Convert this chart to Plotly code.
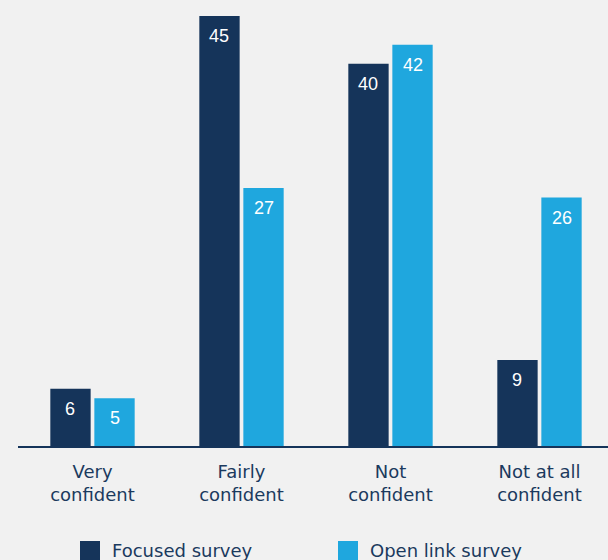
import plotly.graph_objects as go

categories = ["Very<br>confident", "Fairly<br>confident", "Not<br>confident", "Not at all<br>confident"]
series_names = ["Focused survey", "Open link survey"]
focused = [6, 45, 40, 9]
open_link = [5, 27, 42, 26]

NAVY = "#15345a"
BLUE = "#1fa7de"
BG = "#f1f1f1"
TXT = "#1b3a5e"
FONT = "DejaVu Sans"

fig = go.Figure()
xs = list(range(len(categories)))
for name, vals, col in [(series_names[0], focused, NAVY), (series_names[1], open_link, BLUE)]:
    fig.add_trace(go.Bar(x=xs, y=vals, name=name, marker=dict(color=col, line=dict(width=0)),
                         showlegend=False, hoverinfo="skip"))

# value labels inside bars, near top
for i, (a, b) in enumerate(zip(focused, open_link)):
    for off, v in [(-0.1477, a), (0.1477, b)]:
        fig.add_annotation(x=i + off, y=v, text=str(v), showarrow=False, yanchor="middle",
                           yshift=-20, font=dict(family="Liberation Sans", size=18, color="white"))

# legend (manual, large swatches)
leg = [(series_names[0], NAVY, 80), (series_names[1], BLUE, 338)]
for name, col, px in leg:
    fig.add_shape(type="rect", xref="paper", yref="paper",
                  x0=(px - 18) / 590, x1=(px + 20 - 18) / 590,
                  y0=-(541 - 446) / 446, y1=-(562 - 446) / 446,
                  fillcolor=col, line=dict(width=0))
    fig.add_annotation(xref="paper", yref="paper", x=(px + 30 - 18) / 590, y=-(550 - 446) / 446,
                       text=name, showarrow=False, xanchor="left", yanchor="middle",
                       font=dict(family=FONT, size=18, color=TXT))

fig.update_layout(
    width=608, height=560,
    margin=dict(l=18, r=0, t=0, b=114),
    paper_bgcolor=BG, plot_bgcolor=BG,
    barmode="group", bargap=0.409, bargroupgap=0.084,
    font=dict(family=FONT, size=18, color=TXT),
    xaxis=dict(tickmode="array", tickvals=xs, ticktext=categories, range=[-0.5, -0.5 + 590 / 149],
               showline=True, linecolor=NAVY, linewidth=2, showgrid=False, zeroline=False,
               ticks="", ticklabelstandoff=8, tickfont=dict(family=FONT, size=18, color=TXT)),
    yaxis=dict(range=[0, 446 / 9.556], visible=False, showgrid=False, zeroline=False),
)
fig.write_html("out.html", config={"displayModeBar": False},
               post_script="document.body.style.margin='0px';")
